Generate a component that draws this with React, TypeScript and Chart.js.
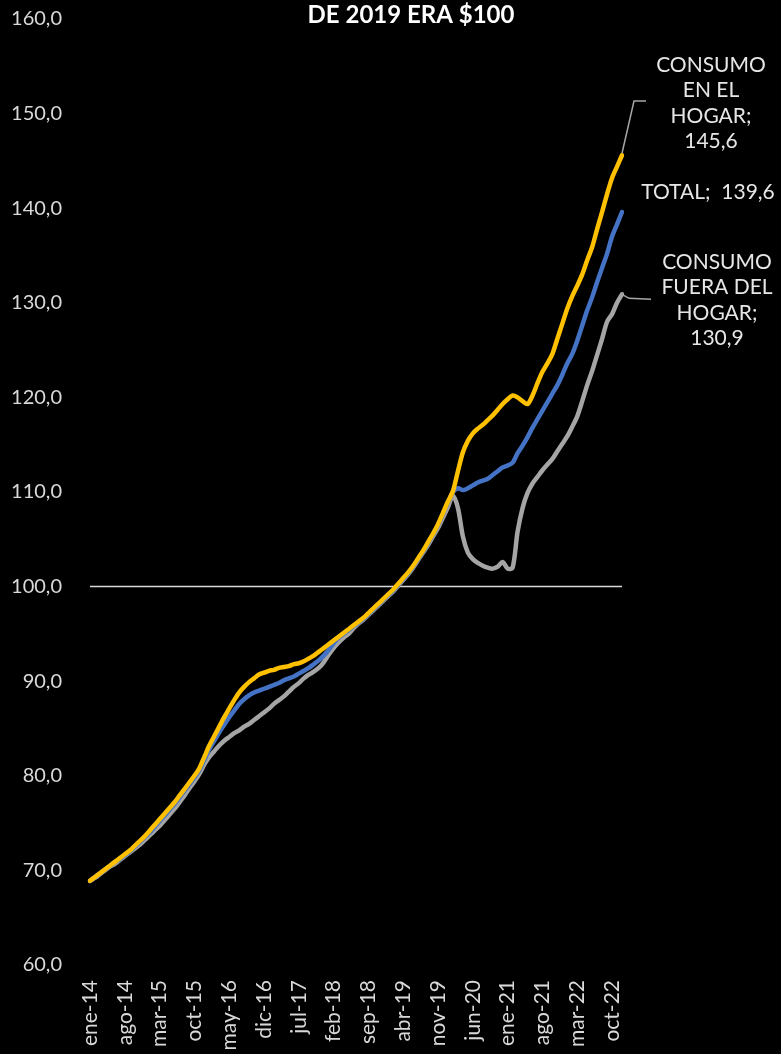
import React, { useEffect, useRef } from "react";
import { Chart, registerables } from "chart.js";

Chart.register(...registerables);

const MONTHS = ["ene", "feb", "mar", "abr", "may", "jun", "jul", "ago", "sep", "oct", "nov", "dic"];
const YEARS = ["14", "15", "16", "17", "18", "19", "20", "21", "22"];
const CATEGORIES: string[] = [];
YEARS.forEach((y) => MONTHS.forEach((m) => CATEGORIES.push(`${m}-${y}`)));

const TITLE_TEXT = "DE 2019 ERA $100";

const HOGAR = [
  68.9, 69.3, 69.7, 70.1, 70.5, 70.9, 71.3, 71.7, 72.1, 72.6, 73.1, 73.6,
  74.2, 74.8, 75.4, 76.0, 76.6, 77.2, 77.9, 78.6, 79.3, 80.0, 80.8, 82.0,
  83.2, 84.2, 85.2, 86.2, 87.1, 88.0, 88.8, 89.4, 89.9, 90.3, 90.7, 90.9,
  91.1, 91.2, 91.4, 91.5, 91.6, 91.8, 91.9, 92.1, 92.4, 92.7, 93.1, 93.5,
  93.9, 94.3, 94.7, 95.1, 95.5, 95.9, 96.3, 96.7, 97.2, 97.7, 98.2, 98.7,
  99.2, 99.7, 100.3, 100.9, 101.5, 102.2, 103.0, 103.8, 104.7, 105.6, 106.6, 107.8,
  109.0, 110.1, 112.2, 114.2, 115.4, 116.2, 116.7, 117.1, 117.6, 118.1, 118.7, 119.3,
  119.8, 120.2, 120.0, 119.6, 119.3, 120.2, 121.5, 122.7, 123.6, 124.6, 126.2, 127.8,
  129.4, 130.7, 131.8, 133.0, 134.5, 135.9, 137.8, 139.6, 141.5, 143.2, 144.4, 145.6,
];

const TOTAL = [
  68.9, 69.3, 69.7, 70.1, 70.5, 70.9, 71.2, 71.6, 72.0, 72.5, 73.0, 73.5,
  74.0, 74.6, 75.2, 75.8, 76.4, 77.0, 77.7, 78.4, 79.1, 79.8, 80.6, 81.7,
  82.8, 83.7, 84.6, 85.4, 86.2, 86.9, 87.6, 88.1, 88.5, 88.8, 89.0, 89.2,
  89.4, 89.6, 89.8, 90.1, 90.3, 90.5, 90.8, 91.1, 91.4, 91.8, 92.2, 92.7,
  93.3, 94.0, 94.6, 95.0, 95.4, 95.8, 96.2, 96.6, 97.1, 97.6, 98.1, 98.6,
  99.1, 99.6, 100.2, 100.8, 101.4, 102.1, 102.9, 103.7, 104.6, 105.5, 106.5, 107.7,
  108.9, 110.0, 110.4, 110.2, 110.4, 110.7, 111.0, 111.2, 111.4, 111.8, 112.2, 112.6,
  112.8, 113.1, 114.1, 114.9, 115.8, 116.8, 117.7, 118.6, 119.5, 120.4, 121.3, 122.4,
  123.6, 124.6, 126.0, 127.6, 129.2, 130.6, 132.2, 133.7, 135.2, 137.0, 138.3, 139.6,
];

const FUERA = [
  68.9, 69.2, 69.6, 70.0, 70.4, 70.7, 71.1, 71.5, 71.9, 72.3, 72.7, 73.2,
  73.7, 74.2, 74.7, 75.3, 75.9, 76.5, 77.2, 77.9, 78.7, 79.4, 80.2, 81.2,
  82.0, 82.6, 83.2, 83.7, 84.1, 84.5, 84.8, 85.2, 85.5, 85.9, 86.3, 86.7,
  87.1, 87.6, 88.0, 88.4, 88.9, 89.4, 89.8, 90.3, 90.7, 91.0, 91.4, 92.0,
  92.8, 93.5, 94.1, 94.6, 95.0, 95.6, 96.1, 96.5, 97.0, 97.5, 98.0, 98.5,
  99.0, 99.5, 100.1, 100.7, 101.3, 102.0, 102.8, 103.6, 104.4, 105.3, 106.2, 107.3,
  108.4, 109.6, 108.3, 105.3, 103.6, 102.9, 102.5, 102.2, 102.0, 101.9, 102.1, 102.6,
  101.9, 102.0, 105.8, 108.3, 109.9, 110.9, 111.6, 112.3, 112.9, 113.5, 114.3, 115.1,
  115.9, 116.9, 118.0, 119.6, 121.3, 122.8, 124.5, 126.2, 128.0, 128.8, 130.0, 130.9,
];

const BASE = CATEGORIES.map(() => 100);

const LABEL_HOGAR = ["CONSUMO", "EN EL", "HOGAR;", "145,6"];
const LABEL_TOTAL = ["TOTAL;  139,6"];
const LABEL_FUERA = ["CONSUMO", "FUERA DEL", "HOGAR;", "130,9"];

const FONT = "Lato, 'Open Sans', sans-serif";

const overlayPlugin = {
  id: "overlay",
  afterDraw(chart: any) {
    const ctx = chart.ctx;
    const xs = chart.scales.x;
    const ys = chart.scales.y;
    const last = CATEGORIES.length - 1;
    ctx.save();
    ctx.fillStyle = "#ffffff";
    ctx.font = `bold 24px ${FONT}`;
    ctx.textAlign = "center";
    ctx.textBaseline = "middle";
    ctx.fillText(TITLE_TEXT, 411, 15);

    ctx.fillStyle = "#e6e6e6";
    ctx.font = `21px ${FONT}`;
    LABEL_HOGAR.forEach((t, i) => ctx.fillText(t, 711, 65 + i * 25.5));
    LABEL_TOTAL.forEach((t, i) => ctx.fillText(t, 708, 192 + i * 25.5));
    LABEL_FUERA.forEach((t, i) => ctx.fillText(t, 717, 262 + i * 25.5));

    ctx.strokeStyle = "#a6a6a6";
    ctx.lineWidth = 1.5;
    const hx = xs.getPixelForValue(last);
    const hy = ys.getPixelForValue(HOGAR[last]);
    ctx.beginPath();
    ctx.moveTo(hx, hy - 2);
    ctx.lineTo(hx + 12, 101);
    ctx.lineTo(hx + 24, 101);
    ctx.stroke();
    const fx = xs.getPixelForValue(last);
    const fy = ys.getPixelForValue(FUERA[last]);
    ctx.beginPath();
    ctx.moveTo(fx, fy);
    ctx.lineTo(fx + 7, fy + 4);
    ctx.lineTo(fx + 29, fy + 5);
    ctx.stroke();
    ctx.restore();
  },
};

export default function App() {
  const ref = useRef<HTMLCanvasElement | null>(null);

  useEffect(() => {
    document.body.style.margin = "0";
    document.body.style.background = "#000";
    document.documentElement.style.background = "#000";
    if (!ref.current) return;
    const line = (label: string, data: number[], color: string) => ({
      label,
      data,
      borderColor: color,
      borderWidth: 4.5,
      pointRadius: 0,
      tension: 0.3,
      borderCapStyle: "round" as const,
    });
    const chart = new Chart(ref.current, {
      type: "line",
      data: {
        labels: CATEGORIES,
        datasets: [
          line("CONSUMO EN EL HOGAR", HOGAR, "#FFC000"),
          line("TOTAL", TOTAL, "#4472C4"),
          line("CONSUMO FUERA DEL HOGAR", FUERA, "#A5A5A5"),
          {
            label: "BASE",
            data: BASE,
            borderColor: "#d9d9d9",
            borderWidth: 1.5,
            pointRadius: 0,
          },
        ],
      },
      options: {
        animation: false,
        responsive: true,
        maintainAspectRatio: false,
        layout: { padding: { top: 19, right: 159, left: 0, bottom: 0 } },
        plugins: {
          legend: { display: false },
          tooltip: { enabled: false },
          title: { display: false },
        },
        scales: {
          x: {
            type: "category",
            offset: false,
            grid: { display: false, drawTicks: false },
            border: { display: false },
            ticks: {
              autoSkip: false,
              maxRotation: 90,
              minRotation: 90,
              padding: 15,
              color: "#d9d9d9",
              font: { family: FONT, size: 21 },
              callback: (_v: any, i: number) => (i % 7 === 0 ? CATEGORIES[i] : ""),
            },
            afterFit: (s: any) => {
              s.height = 89;
              s.paddingLeft = 0;
              s.paddingRight = 0;
            },
          },
          y: {
            min: 60,
            max: 160,
            grid: { display: false, drawTicks: false },
            border: { display: false },
            ticks: {
              stepSize: 10,
              padding: 28,
              color: "#d9d9d9",
              font: { family: FONT, size: 20 },
              callback: (v: any) => Number(v).toFixed(1).replace(".", ","),
            },
            afterFit: (s: any) => {
              s.width = 90;
              s.paddingTop = 0;
              s.paddingBottom = 0;
            },
          },
        },
      },
      plugins: [overlayPlugin],
    });
    return () => chart.destroy();
  }, []);

  return (
    <div style={{ width: 781, height: 1054, background: "#000", position: "relative" }}>
      <canvas ref={ref} />
    </div>
  );
}
